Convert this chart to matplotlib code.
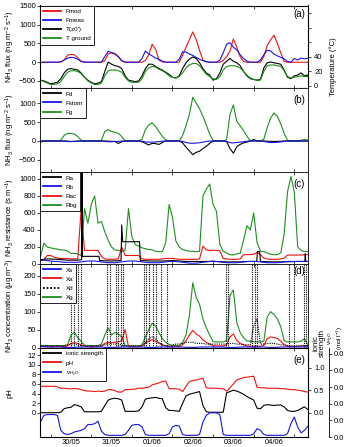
import numpy as np
import matplotlib
matplotlib.use('Agg')
import matplotlib.pyplot as plt

plt.rcParams['font.family'] = ['Liberation Sans', 'DejaVu Sans']
plt.rcParams['mathtext.fontset'] = 'custom'
plt.rcParams['mathtext.rm'] = 'Liberation Sans'
plt.rcParams['mathtext.it'] = 'Liberation Sans:italic'

# time axis: 2-hourly, hours since 30/05 00:00 (starts 29/05 18:00)
hours = np.arange(-6, 153, 2)
day_labels = ['30/05', '31/05', '01/06', '02/06', '03/06', '04/06']

# (a) fluxes (ng m-2 s-1) and temperatures (degC)
fmod = [0, 0, 0,
        0, 0, 0, 10, 60, 190, 210, 200, 120, 30, 5, 0,
        0, 0, 0, 0, 40, 220, 250, 210, 150, 40, 5, 0,
        0, 0, 0, 0, 50, 200, 480, 350, 60, 10, 0, 0,
        0, 0, 0, 190, 400, 600, 810, 600, 320, 60, 10, 0,
        0, 0, 0, 50, 150, 300, 620, 400, 150, 20, 0, 0,
        0, 0, 0, 150, 450, 600, 720, 500, 250, 20, 0, 0,
        0, 0, 0, 0, 0]
fmeas = [-10, 0, 0,
         0, 0, 0, 10, 60, 110, 130, 120, 80, 20, 0, 0,
         0, 0, 0, 0, 150, 290, 260, 230, 150, 40, 0, 0,
         0, 0, 0, 100, 300, 220, 170, 110, 80, 30, 0, 0,
         0, 0, 80, 280, 270, 220, 180, 130, 80, 40, 20, 0,
         0, 0, 60, 250, 480, 520, 400, 330, 200, 100, 30, 0,
         0, 0, 60, 200, 320, 300, 220, 170, 130, 90, 20, 0,
         100, 60, 110, 90, 110]
t_z0 = [8, 7, 5,
        3, 4, 5, 10, 18, 23, 24, 23, 22, 18, 12, 8,
        5, 3, 4, 6, 20, 33, 30, 28, 27, 24, 14, 8,
        7, 6, 7, 14, 24, 30, 30, 27, 24, 22, 19, 16,
        12, 11, 14, 24, 32, 37, 40, 38, 32, 24, 18, 15,
        8, 10, 18, 30, 34, 38, 34, 32, 28, 20, 14, 10,
        9, 8, 9, 25, 32, 33, 32, 31, 30, 22, 12, 10,
        14, 15, 18, 14, 15]
t_ground = [8, 6, 4,
            2, 2, 3, 6, 13, 19, 21, 21, 20, 17, 12, 7,
            4, 2, 2, 4, 14, 21, 22, 22, 21, 19, 12, 7,
            5, 5, 5, 10, 20, 25, 27, 26, 23, 21, 18, 14,
            12, 11, 13, 18, 25, 29, 31, 31, 28, 22, 16, 13,
            10, 9, 13, 22, 27, 28, 28, 27, 25, 20, 15, 11,
            9, 8, 8, 20, 28, 29, 29, 28, 27, 21, 13, 11,
            12, 13, 14, 13, 13]

# (b) flux components
fd = [-30, 0, 0,
      0, 0, 0, 0, 0, -5, -10, -10, -5, 0, 0, 0,
      0, 0, 0, 0, 0, -5, -10, -10, -65, -20, 0, 0,
      0, 0, 0, -20, -60, -105, -60, -70, -90, -40, 0, 0,
      0, 0, 0, -50, -160, -260, -360, -300, -270, -200, -140, -60,
      0, 0, 0, 0, -20, -200, -320, -150, -90, -50, -30, 0,
      40, 0, 0, 0, -5, -10, -10, -10, -5, 0, 0, 0,
      0, 0, 0, 0, 0]
fstom = [0, 0, 0,
         0, 0, 0, 0, -5, -15, -15, -10, -5, 0, 0, 0,
         0, 0, 0, 0, -10, -20, -20, -15, -10, -5, 0, 0,
         0, 0, 0, -5, -25, -30, -30, -25, -15, -5, 0, 0,
         0, 0, 0, -10, -40, -55, -60, -55, -45, -30, -10, 0,
         0, 0, 0, 0, -10, -45, -50, -40, -30, -20, -5, 0,
         0, 0, 0, -10, -30, -40, -40, -35, -25, -10, 0, 0,
         0, 0, 0, 0, 0]
fg = [0, 0, 0,
      0, 0, 0, 20, 150, 200, 200, 180, 120, 20, 0, 0,
      0, 0, 0, 20, 250, 300, 250, 230, 200, 120, 0, 0,
      0, 0, 0, 50, 300, 420, 480, 380, 250, 120, 30, 0,
      0, 0, 0, 150, 400, 700, 1150, 1000, 850, 650, 420, 180,
      10, 0, 0, 0, 30, 700, 950, 520, 400, 270, 130, 0,
      0, 0, 0, 50, 350, 600, 740, 650, 450, 200, 20, 0,
      0, 0, 20, 40, 20]

# (c) resistances (s m-1)
ra_hours = [-6, -2, 4, 10, 16, 18.3, 18.5, 18.7, 28.5, 29, 36, 41.6, 42, 42.6,
            52.5, 53, 60, 66, 72, 80, 88, 96, 104, 112, 118, 121.8, 122.2, 123.5,
            124, 130, 138, 146, 150.2, 150.5, 150.8, 152]
ra = [50, 60, 55, 45, 45, 50, 1200, 90, 90, 40, 35, 40, 460, 262,
      262, 40, 35, 35, 40, 30, 30, 30, 25, 25, 30, 30, 145, 145,
      30, 25, 25, 30, 30, 120, 30, 30]
rb = [45, 45, 40,
      35, 30, 30, 25, 20, 20, 20, 20, 20, 25, 30, 35,
      35, 35, 30, 25, 20, 15, 15, 15, 20, 25, 30, 35,
      35, 35, 30, 25, 20, 15, 15, 15, 15, 20, 25, 30,
      30, 30, 25, 20, 15, 10, 10, 10, 15, 20, 25, 30,
      35, 30, 25, 20, 15, 15, 15, 15, 20, 25, 30, 30,
      30, 30, 25, 20, 15, 15, 15, 15, 20, 25, 30, 30,
      30, 30, 30, 30, 30]
rac = [40, 50, 100,
       100, 80, 70, 65, 65, 65, 60, 60, 60, 640, 160, 160,
       160, 160, 160, 90, 60, 55, 55, 55, 60, 200, 100, 100,
       100, 100, 100, 60, 55, 55, 55, 55, 55, 60, 65, 65,
       65, 60, 55, 55, 55, 55, 55, 55, 60, 210, 165, 160,
       160, 160, 155, 65, 60, 55, 55, 55, 60, 110, 110, 110,
       115, 135, 110, 70, 60, 55, 55, 55, 60, 70, 105, 105,
       105, 105, 105, 110, 110]
rbg = [90, 245, 200,
       190, 180, 175, 165, 165, 150, 125, 125, 120, 100, 650, 480,
       700, 800, 480, 500, 380, 280, 200, 165, 160, 150, 160, 650,
       320, 230, 210, 190, 180, 170, 165, 150, 145, 145, 250, 700,
       550, 270, 200, 170, 160, 150, 150, 145, 150, 800, 880, 940,
       700, 620, 230, 150, 130, 110, 105, 120, 125, 280, 450, 400,
       600, 250, 150, 145, 130, 115, 110, 110, 130, 350, 850, 1030,
       850, 200, 160, 145, 145]

# (d) concentrations (ug m-3)
xs = [3, 3, 2,
      2, 2, 2, 2, 1, 1, 1, 1, 2, 2, 2, 2,
      2, 2, 2, 2, 1, 1, 1, 1, 2, 2, 2, 2,
      2, 2, 2, 2, 1, 1, 1, 1, 2, 2, 2, 2,
      2, 2, 2, 2, 1, 1, 1, 1, 2, 2, 2, 2,
      2, 2, 2, 2, 1, 1, 1, 1, 2, 2, 2, 2,
      2, 2, 2, 2, 1, 1, 1, 1, 2, 2, 2, 2,
      2, 2, 2, 2, 2]
xa = [3, 3, 3,
      3, 3, 3, 3, 3, 5, 12, 14, 12, 8, 4, 3,
      3, 3, 3, 5, 12, 15, 14, 15, 16, 20, 50, 3,
      3, 3, 3, 5, 12, 18, 22, 18, 12, 8, 5, 3,
      3, 3, 3, 8, 20, 35, 48, 38, 32, 22, 15, 10,
      6, 5, 5, 5, 8, 30, 38, 20, 12, 8, 5, 4,
      4, 4, 4, 6, 25, 30, 28, 26, 18, 8, 4, 4,
      4, 4, 5, 6, 4]
xd = [5, 5, 5,
      5, 5, 5, 5, 5, 8, 10, 10, 8, 6, 5, 5,
      5, 5, 5, 5, 8, 10, 10, 10, 10, 8, 5, 5,
      5, 5, 5, 5, 15, 25, 30, 25, 15, 8, 5, 5,
      8, 10, 10, 12, 15, 15, 15, 12, 12, 12, 10, 10,
      10, 10, 10, 10, 10, 12, 12, 10, 10, 8, 8, 8,
      60, 80, 10, 10, 12, 12, 12, 10, 8, 8, 5, 5,
      5, 5, 5, 5, 5]
# times (h) where Xd shoots far off scale
xd_offscale = [12, 13.5, 16, 18.2, 33.3, 35, 38.5, 40, 41.4, 43,
               55, 56.5, 58, 60.4, 62, 65, 69, 103.5, 105,
               118.8, 121, 122, 141, 144, 149.5, 150.8]
xg = [6, 6, 6,
      6, 6, 6, 6, 6, 8, 35, 43, 28, 18, 7, 6,
      6, 6, 6, 10, 35, 55, 35, 42, 38, 30, 6, 5,
      5, 5, 5, 8, 30, 50, 68, 60, 42, 25, 15, 9,
      6, 6, 6, 15, 35, 90, 180, 140, 120, 80, 55, 35,
      17, 16, 16, 16, 20, 145, 160, 70, 42, 28, 19, 18,
      16, 16, 16, 18, 85, 100, 92, 80, 58, 20, 16, 16,
      16, 16, 18, 25, 8]

# (e) pH, ionic strength, water volume
ph = [5.5, 5.5, 5.5,
      5.5, 5.5, 5.4, 5.1, 5.1, 5.0, 5.0, 5.0, 5.0, 4.8, 4.6, 4.5,
      4.5, 4.4, 4.5, 4.4, 4.5, 4.8, 4.8, 4.6, 4.3, 4.3, 4.8, 4.8,
      4.9, 4.9, 5.1, 5.1, 5.2, 5.3, 5.8, 6.0, 6.2, 6.5, 6.6, 5.0,
      5.0, 5.0, 4.9, 4.4, 5.5, 6.5, 6.7, 6.8, 7.0, 7.2, 5.2, 5.1,
      5.1, 5.1, 5.0, 5.0, 4.5, 5.2, 6.0, 6.8, 7.1, 7.3, 7.4, 7.5,
      7.6, 5.3, 5.2, 5.2, 5.1, 5.1, 5.1, 5.1, 5.0, 5.0, 4.9, 4.8,
      4.8, 4.7, 4.6, 4.4, 4.3]
ionic = [0.00, 0.00, 0.00,
         0.00, 0.00, 0.00, 0.01, 0.09, 0.11, 0.12, 0.18, 0.16, 0.13, 0.02, 0.02,
         0.02, 0.02, 0.02, 0.03, 0.16, 0.28, 0.31, 0.32, 0.31, 0.28, 0.03, 0.03,
         0.03, 0.03, 0.04, 0.13, 0.30, 0.32, 0.33, 0.34, 0.32, 0.31, 0.11, 0.05,
         0.05, 0.04, 0.03, 0.21, 0.37, 0.41, 0.43, 0.45, 0.47, 0.16, 0.02, 0.01,
         0.01, 0.01, 0.01, 0.01, 0.44, 0.47, 0.50, 0.48, 0.45, 0.41, 0.36, 0.32,
         0.28, 0.10, 0.09, 0.16, 0.18, 0.17, 0.16, 0.17, 0.17, 0.13, 0.05, 0.03,
         0.03, 0.05, 0.09, 0.13, 0.07]
v_h2o = [0.0018, 0.0026, 0.0027,
         0.0027, 0.0027, 0.0026, 0.0008, 0.0004, 0.0003, 0.0004, 0.0006, 0.0007, 0.0008, 0.0010, 0.0015,
         0.0015, 0.0016, 0.0019, 0.0007, 0.0003, 0.0002, 0.0002, 0.0002, 0.0002, 0.0002, 0.0003, 0.0008,
         0.0014, 0.0015, 0.0015, 0.0012, 0.0003, 0.0002, 0.0002, 0.0002, 0.0002, 0.0002, 0.0002, 0.0004,
         0.0012, 0.0014, 0.0013, 0.0003, 0.0002, 0.0002, 0.0002, 0.0002, 0.0003, 0.0018, 0.0026, 0.0029,
         0.0029, 0.0029, 0.0027, 0.0003, 0.0002, 0.0002, 0.0002, 0.0002, 0.0002, 0.0002, 0.0002, 0.0002,
         0.0004, 0.0010, 0.0008, 0.0003, 0.0002, 0.0002, 0.0002, 0.0002, 0.0002, 0.0002, 0.0004, 0.0016,
         0.0024, 0.0012, 0.0005, 0.0008, 0.0013]

RED, BLUE, BLK, GRN = '#f01010', '#1515e6', 'black', '#1f8f1f'
LW = 0.8
H = 447.0

fig = plt.figure(figsize=(3.45, 4.47), dpi=100)


def panel(top, bot):
    return fig.add_axes([40 / 345, 1 - bot / H, 268 / 345, (bot - top) / H])


def style(ax, labels=False):
    ax.set_xlim(-6.3, 152.1)
    ax.set_xticks(np.arange(0, 145, 24))
    ax.set_xticks(np.arange(12, 133, 24), minor=True)
    ax.tick_params(axis='x', which='major', direction='in', length=2.5, width=0.5,
                   top=True, labelbottom=False)
    ax.tick_params(axis='x', which='minor', length=0, labelbottom=labels,
                   labelsize=5.5, pad=1.5)
    if labels:
        ax.set_xticklabels(day_labels, minor=True)
    ax.tick_params(axis='y', direction='out', length=2, width=0.5, labelsize=5.5, pad=1)
    for s in ax.spines.values():
        s.set_linewidth(0.6)


def leg(ax, handles, labels):
    lg = ax.legend(handles, labels, loc='upper left', bbox_to_anchor=(0, 1),
                   borderaxespad=0, fontsize=4.5, fancybox=False, edgecolor='black',
                   framealpha=1, handlelength=2.8, handletextpad=0.8,
                   borderpad=0.5, labelspacing=0.6)
    lg.get_frame().set_linewidth(0.6)
    for ln in lg.get_lines():
        ln.set_linewidth(1.3)


def tag(ax, s, y):
    ax.text(0.988, y, s, transform=ax.transAxes, ha='right', va='center', fontsize=7)


# (a)
ax_a = panel(5.5, 88)
l1, = ax_a.plot(hours, fmod, color=RED, lw=LW)
l2, = ax_a.plot(hours, fmeas, color=BLUE, lw=LW)
ax_a.set_ylim(-687, 1513)
ax_a.set_yticks([-500, 0, 500, 1000, 1500])
style(ax_a)
ax_t = ax_a.twinx()
l3, = ax_t.plot(hours, t_z0, color=BLK, lw=LW)
l4, = ax_t.plot(hours, t_ground, color=GRN, lw=LW)
ax_t.set_ylim(-2.8, 111)
ax_t.set_yticks([0, 20, 40, 60, 80, 100])
ax_t.set_yticklabels(['0', '20', '40', '', '', ''])
ax_t.tick_params(axis='y', direction='out', length=2, width=0.5, labelsize=5.5, pad=2.5)
leg(ax_t, [l1, l2, l3, l4], ['Fmod', 'Fmeas', "T(z0')", 'T ground'])
tag(ax_t, '(a)', 0.9)

# (b)
ax_b = panel(88, 172)
g, = ax_b.plot(hours, fg, color=GRN, lw=LW)
d, = ax_b.plot(hours, fd, color=BLK, lw=LW)
s, = ax_b.plot(hours, fstom, color=BLUE, lw=LW)
ax_b.set_ylim(-816, 1395)
ax_b.set_yticks([-500, 0, 500, 1000])
style(ax_b)
leg(ax_b, [d, s, g], ['Fd', 'Fstom', 'Fg'])
tag(ax_b, '(b)', 0.86)

# (c)
ax_c = panel(172, 264)
c4, = ax_c.plot(hours, rbg, color=GRN, lw=LW)
c3, = ax_c.plot(hours, rac, color=RED, lw=LW)
c1, = ax_c.plot(ra_hours, ra, color=BLK, lw=LW)
c2, = ax_c.plot(hours, rb, color=BLUE, lw=LW)
ax_c.set_ylim(0, 1082)
ax_c.set_yticks(np.arange(0, 1001, 200))
style(ax_c)
leg(ax_c, [c1, c2, c3, c4], ['Ra', 'Rb', 'Rac', 'Rbg'])
tag(ax_c, '(c)', 0.87)

# (d)
ax_d = panel(264, 348)
d4, = ax_d.plot(hours, xg, color=GRN, lw=LW)
d2, = ax_d.plot(hours, xa, color=RED, lw=LW)
d3, = ax_d.plot(hours, xd, color=BLK, lw=LW, ls=(0, (1, 1)))
ax_d.vlines(xd_offscale, 0, 5000, color=BLK, lw=LW, ls=(0, (1, 1)))
d1, = ax_d.plot(hours, xs, color=BLUE, lw=LW)
ax_d.set_ylim(-0.8, 232)
ax_d.set_yticks(np.arange(0, 201, 50))
style(ax_d)
leg(ax_d, [d1, d2, d3, d4], ['Xs', 'Xa', 'Xd', 'Xg'])
tag(ax_d, '(d)', 0.92)

# (e)
ax_e = panel(348, 437)
e2, = ax_e.plot(hours, ph, color=RED, lw=LW)
ax_e.set_ylim(-5.06, 13.48)
ax_e.set_yticks(np.arange(0, 13, 2))
style(ax_e, labels=True)
ax_i = ax_e.twinx()
e1, = ax_i.plot(hours, ionic, color=BLK, lw=LW)
ax_i.set_ylim(-0.54, 1.438)
ax_i.set_yticks([0, 0.5, 1.0])
ax_i.set_yticklabels(['0.0', '0.5', '1.0'])
ax_i.tick_params(axis='y', direction='out', length=2, width=0.5, labelsize=5.5, pad=2.5)
ax_v = ax_e.twinx()
ax_v.spines['right'].set_position(('axes', 1.078))
e3, = ax_v.plot(hours, v_h2o, color=BLUE, lw=LW)
ax_v.set_ylim(0, 0.0107)
v_ticks = np.arange(0, 0.0101, 0.002)
ax_v.set_yticks(v_ticks)
ax_v.set_yticklabels(['%.1f' % v for v in v_ticks])
ax_v.tick_params(axis='y', direction='out', length=2, width=0.5, labelsize=5.5, pad=1.5)
for sp in ax_v.spines.values():
    sp.set_linewidth(0.6)
leg(ax_v, [e1, e2, e3], ['ionic strength', 'pH', r'v$_{H_2O}$'])
tag(ax_v, '(e)', 0.86)

# axis titles
fs = 5.5
fig.text(10 / 345, 1 - 47 / H, r'NH$_3$ flux (ng m$^{-2}$ s$^{-1}$)', rotation=90,
         ha='center', va='center', fontsize=fs)
fig.text(10 / 345, 1 - 130 / H, r'NH$_3$ flux (ng m$^{-2}$ s$^{-1}$)', rotation=90,
         ha='center', va='center', fontsize=fs)
fig.text(10 / 345, 1 - 218 / H, r'NH$_3$ resistance (s m$^{-1}$)', rotation=90,
         ha='center', va='center', fontsize=fs)
fig.text(10 / 345, 1 - 306 / H, r'NH$_3$ concentration (μg m$^{-3}$)', rotation=90,
         ha='center', va='center', fontsize=fs)
fig.text(10 / 345, 1 - 393 / H, 'pH', rotation=90, ha='center', va='center', fontsize=fs)
fig.text(333 / 345, 1 - 67 / H, 'Temperature (°C)', rotation=90,
         ha='center', va='center', fontsize=fs)
fig.text(319 / 345, 1 - 343 / H, 'ionic\nstrength', rotation=90, ha='center',
         va='center', fontsize=fs, linespacing=1.0)
fig.text(335.5 / 345, 1 - 338 / H, 'v$_{H_2O}$\n(mol l$^{-1}$)', rotation=90,
         ha='center', va='center', fontsize=4.5, linespacing=1.0)

fig.savefig('out.png', dpi=100)
